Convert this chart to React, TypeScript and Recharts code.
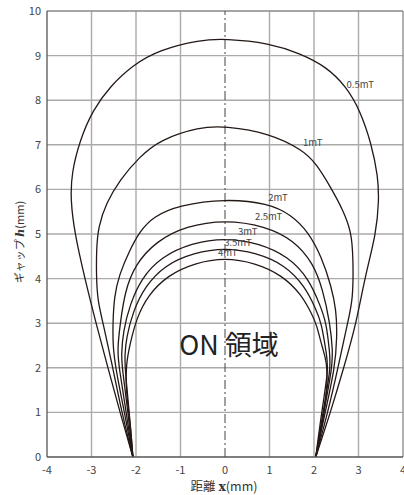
import { LineChart, Line, XAxis, YAxis, ReferenceLine, ReferenceDot, Label } from 'recharts'

// x(mm), h(mm), left foot -> top -> right foot
const mT05: [number, number][] = [
  [-2.07, 0], [-2.36, 1], [-2.63, 2], [-2.9, 3], [-3.15, 4], [-3.38, 5.02], [-3.47, 5.76],
  [-3.45, 6.36], [-3.26, 7.11], [-2.97, 7.78], [-2.59, 8.3], [-2.07, 8.79], [-1.47, 9.13],
  [-0.57, 9.35], [0, 9.38], [1.0, 9.28], [1.68, 9.05], [2.28, 8.75], [2.73, 8.3], [3.03, 7.78],
  [3.29, 7.03], [3.44, 6.28], [3.46, 5.76], [3.4, 5.02], [3.14, 4.02], [2.95, 3], [2.67, 2],
  [2.37, 1], [2.04, 0],
]
const mT1: [number, number][] = [
  [-2.07, 0], [-2.32, 1], [-2.52, 2], [-2.74, 3], [-2.86, 3.5], [-2.89, 4.0], [-2.89, 4.64],
  [-2.85, 5.16], [-2.67, 5.69], [-2.37, 6.21], [-1.92, 6.73], [-1.47, 7.11], [-0.57, 7.4],
  [0, 7.42], [1.0, 7.26], [1.75, 6.88], [2.05, 6.58], [2.39, 6.02], [2.65, 5.54], [2.84, 5.05],
  [2.88, 4.49], [2.88, 3.52], [2.75, 3], [2.54, 2], [2.31, 1], [2.04, 0],
]
const mT2: [number, number][] = [
  [-2.07, 0], [-2.26, 1], [-2.46, 2], [-2.52, 2.5], [-2.52, 3.0], [-2.49, 3.6], [-2.38, 4.08],
  [-2.15, 4.62], [-1.92, 5.05], [-1.62, 5.39], [-1.02, 5.65], [0, 5.79], [0.97, 5.69],
  [1.49, 5.43], [1.87, 5.05], [2.17, 4.49], [2.39, 3.82], [2.5, 3.3], [2.52, 2.7], [2.47, 2],
  [2.25, 1], [2.04, 0],
]
const mT25: [number, number][] = [
  [-2.07, 0], [-2.22, 1], [-2.38, 2], [-2.42, 2.4], [-2.36, 2.96], [-2.25, 3.71], [-2.03, 4.3],
  [-1.55, 4.84], [-0.87, 5.18], [0, 5.32], [0.9, 5.18], [1.55, 4.86], [1.98, 4.35], [2.2, 3.75],
  [2.36, 3.0], [2.42, 2.4], [2.41, 2], [2.22, 1], [2.04, 0],
]
const mT3: [number, number][] = [
  [-2.07, 0], [-2.18, 1], [-2.31, 2], [-2.33, 2.29], [-2.29, 2.81], [-2.14, 3.41], [-1.88, 4.01],
  [-1.43, 4.49], [-0.75, 4.8], [0, 4.91], [0.75, 4.8], [1.43, 4.49], [1.88, 4.0], [2.14, 3.4],
  [2.28, 3.0], [2.35, 2.35], [2.38, 2], [2.2, 1], [2.04, 0],
]
const mT35: [number, number][] = [
  [-2.07, 0], [-2.15, 1], [-2.25, 2], [-2.25, 2.29], [-2.22, 2.66], [-2.07, 3.26], [-1.8, 3.82],
  [-1.36, 4.3], [-0.7, 4.58], [0, 4.69], [0.7, 4.58], [1.36, 4.3], [1.8, 3.82], [2.05, 3.3],
  [2.17, 3.0], [2.28, 2.3], [2.33, 2], [2.17, 1], [2.04, 0],
]
const mT4: [number, number][] = [
  [-2.07, 0], [-2.12, 0.7], [-2.23, 1.5], [-2.22, 2.1], [-2.14, 2.51], [-1.99, 3.11],
  [-1.73, 3.63], [-1.28, 4.08], [-0.68, 4.35], [0, 4.47], [0.68, 4.35], [1.28, 4.08],
  [1.73, 3.63], [1.95, 3.2], [2.05, 3.0], [2.2, 2.4], [2.28, 2.17], [2.31, 1.65], [2.2, 0.8],
  [2.04, 0],
]

const curves = [mT05, mT1, mT2, mT25, mT3, mT35, mT4]

// curve name tags: [x, h, text]
const tags: [number, number, string][] = [
  [3.04, 8.34, '0.5mT'], [1.97, 7.05, '1mT'], [1.19, 5.82, '2mT'], [0.98, 5.4, '2.5mT'],
  [0.51, 5.05, '3mT'], [0.29, 4.81, '3.5mT'], [0.06, 4.58, '4mT'],
]

const xTicks = [-4, -3, -2, -1, 0, 1, 2, 3, 4]
const yTicks = [0, 1, 2, 3, 4, 5, 6, 7, 8, 9, 10]
const xGrid = [-3, -2, -1, 1, 2, 3]
const yGrid = [1, 2, 3, 4, 5, 6, 7, 8, 9]

const FONT = "'Noto Sans CJK JP', 'Noto Sans', sans-serif"
const INK = '#231815'

function XTitle(props: any) {
  const vb = props.viewBox
  return (
    <text x={vb.x + vb.width / 2 - 1} y={491} textAnchor="middle" fontSize={12.5} fill="#333" fontFamily={FONT}>
      距離 <tspan fontFamily="'DejaVu Serif', serif" fontWeight="bold">x</tspan>(mm)
    </text>
  )
}

function YTitle(props: any) {
  const vb = props.viewBox
  const cy = vb.y + vb.height / 2 + 8
  return (
    <text x={24} y={cy} transform={`rotate(-90 24 ${cy})`} textAnchor="middle" fontSize={11} fill="#333" fontFamily={FONT}>
      ギャップ <tspan fontFamily="'DejaVu Serif', serif" fontWeight="bold" fontStyle="italic">h</tspan>(mm)
    </text>
  )
}

export default function App() {
  return (
    <div style={{ position: 'absolute', left: 0, top: 0, width: 404, height: 495, background: '#fff' }}>
      <LineChart width={404} height={495} margin={{ top: 11, right: 1, bottom: 0, left: 0 }}>
        <XAxis
          type="number" dataKey="x" domain={[-4, 4]} ticks={xTicks} interval={0}
          height={38} tickLine={false} tickSize={0} tickMargin={9}
          axisLine={{ stroke: '#555', strokeWidth: 1.3 }}
          tick={{ fontSize: 11, fill: '#444', fontFamily: FONT }}
          allowDataOverflow
        >
          <Label content={XTitle} />
        </XAxis>
        <YAxis
          type="number" dataKey="y" domain={[0, 10]} ticks={yTicks} interval={0}
          width={47} tickLine={false} tickSize={0} tickMargin={6}
          axisLine={{ stroke: '#555', strokeWidth: 1.3 }}
          tick={{ fontSize: 11, fill: '#444', fontFamily: FONT }}
          allowDataOverflow
        >
          <Label content={YTitle} />
        </YAxis>

        {xGrid.map(v => <ReferenceLine key={'gx' + v} x={v} stroke="#aaa" strokeWidth={1.4} />)}
        {yGrid.map(v => <ReferenceLine key={'gy' + v} y={v} stroke="#aaa" strokeWidth={1.4} />)}
        <ReferenceLine y={10} stroke="#888" strokeWidth={1.3} />
        <ReferenceLine x={4} stroke="#888" strokeWidth={1.3} />
        <ReferenceLine x={0} stroke="#444" strokeWidth={1} strokeDasharray="9 3 2 3" />

        {curves.map((c, i) => (
          <Line
            key={i}
            data={c.map(([x, y]) => ({ x, y }))}
            dataKey="y"
            type="basis"
            stroke={INK}
            strokeWidth={1.3}
            dot={false}
            activeDot={false}
            isAnimationActive={false}
          />
        ))}

        {tags.map(([x, y, t]) => (
          <ReferenceDot key={t} x={x} y={y} r={0} stroke="none"
            label={{ value: t, position: 'center', fontSize: 9.5, fill: '#444', fontFamily: FONT }} />
        ))}
        <ReferenceDot x={0.09} y={2.51} r={0} stroke="none"
          label={{ value: 'ON 領域', position: 'center', fontSize: 27, fill: '#222', fontFamily: FONT }} />
      </LineChart>
    </div>
  )
}
